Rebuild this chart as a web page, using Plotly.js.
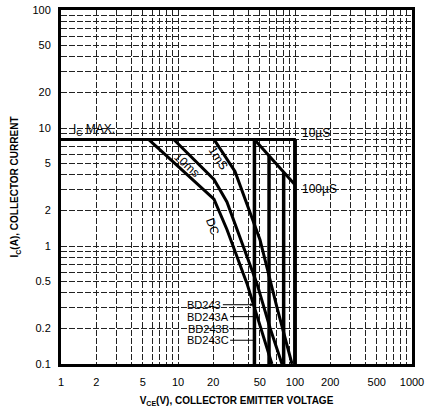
<!DOCTYPE html>
<html>
<head>
<meta charset="utf-8">
<script src="https://cdn.plot.ly/plotly-3.0.1.min.js"></script>
<style>html,body{margin:0;padding:0;background:#fff;}#chart{width:429px;height:418px;}</style>
</head>
<body>
<div id="chart"></div>
<script>
// ---- data (V in volts, I in amperes) ----
const icMax = 8;
const icMaxLineV = [1, 100];
const box10usV = [100, 100];
const box10usI = [8, 0.1];
const us100V = [45, 100];
const us100I = [8, 3.3];
const ms1V = [20.3, 30.7, 50.2, 70.2, 94.3];
const ms1I = [8, 4.28, 1.13, 0.30, 0.1];
const ms10V = [9.2, 20.3, 26.2, 47.3, 61.1, 77.4];
const ms10I = [8, 3.66, 2.36, 0.48, 0.203, 0.1];
const dcV = [5.6, 20.3, 26.2, 38.9, 63.5];
const dcI = [8, 2.5, 1.38, 0.48, 0.1];
const partNames = ['BD243', 'BD243A', 'BD243B', 'BD243C'];
const vceo = [45, 60, 80, 100];
const vceoTop = [8, 5.8, 4.2, 8];
const vceoBottom = 0.1;
const xTickLabels = [1, 2, 5, 10, 20, 50, 100, 200, 500, 1000];
const yTickLabels = [0.1, 0.2, 0.5, 1, 2, 5, 10, 20, 50, 100];

// ---- build grid tick lists (1..9 per decade) ----
function gridVals(startExp, endExp) {
  const v = [];
  for (let e = startExp; e < endExp; e++) {
    for (let m = 1; m <= 9; m++) v.push(+(m * Math.pow(10, e)).toPrecision(3));
  }
  v.push(Math.pow(10, endExp));
  return v;
}
const xVals = gridVals(0, 3);
const yVals = gridVals(-1, 2);
const lbl = (vals, shown) => vals.map(v => shown.some(s => Math.abs(s - v) < 1e-9 * Math.max(1, v)) ? String(v) : '');

const L = { color: '#000', width: 3 };
const traces = [];
traces.push({ x: icMaxLineV, y: [icMax, icMax], mode: 'lines', line: L, hoverinfo: 'skip' });
traces.push({ x: box10usV, y: box10usI, mode: 'lines', line: { color: '#000', width: 3.5 }, hoverinfo: 'skip' });
traces.push({ x: us100V, y: us100I, mode: 'lines', line: L, hoverinfo: 'skip' });
traces.push({ x: ms1V, y: ms1I, mode: 'lines', line: L, hoverinfo: 'skip' });
traces.push({ x: ms10V, y: ms10I, mode: 'lines', line: L, hoverinfo: 'skip' });
traces.push({ x: dcV, y: dcI, mode: 'lines', line: L, hoverinfo: 'skip' });
vceo.forEach((v, i) => {
  traces.push({ x: [v, v], y: [vceoTop[i], vceoBottom], mode: 'lines', line: { color: '#000', width: 3.5 }, hoverinfo: 'skip' });
});

const lg = Math.log10;
const F = 'Liberation Sans, Arial, sans-serif';
const annFont = { family: F, size: 12, color: '#000' };
const bdFont = { family: F, size: 11, color: '#000' };
const annotations = [
  { x: lg(1.22), y: lg(9.7), xref: 'x', yref: 'y', text: 'I<sub>C</sub> MAX.', showarrow: false, xanchor: 'left', yanchor: 'middle', font: annFont },
  { x: lg(11.9), y: lg(4.83), xref: 'x', yref: 'y', text: '10ms', showarrow: false, textangle: 42, font: annFont },
  { x: lg(22), y: lg(5.56), xref: 'x', yref: 'y', text: '1mS', showarrow: false, textangle: 57, font: annFont },
  { x: lg(19.9), y: lg(1.46), xref: 'x', yref: 'y', text: 'DC', showarrow: false, textangle: 70, font: annFont },
  { x: lg(110), y: lg(9.0), xref: 'x', yref: 'y', text: '10µS', showarrow: false, xanchor: 'left', yanchor: 'middle', font: annFont },
  { x: lg(110), y: lg(3.05), xref: 'x', yref: 'y', text: '100µS', showarrow: false, xanchor: 'left', yanchor: 'middle', font: annFont }
];
const rowI = [0.318, 0.252, 0.199, 0.159];
const labelCenterV = [16.8, 17.9, 18.1, 17.9];
partNames.forEach((n, i) => {
  annotations.push({
    x: lg(i === 0 ? vceo[i] - 1 : 45), y: lg(rowI[i]), xref: 'x', yref: 'y',
    ax: lg(labelCenterV[i]), ay: lg(rowI[i]), axref: 'x', ayref: 'y',
    text: n, showarrow: true, arrowhead: i === 0 ? 2 : 0, arrowsize: 0.6, arrowwidth: 1, arrowcolor: '#000',
    standoff: 0, startstandoff: 1, font: bdFont, borderpad: 0
  });
});

const axisCommon = {
  type: 'log', showgrid: true, gridcolor: '#222', gridwidth: 1, griddash: '6px,2px',
  showline: true, linecolor: '#000', linewidth: 3, mirror: true, ticks: '',
  tickfont: { family: F, size: 11, color: '#000' }, zeroline: false
};

const layout = {
  width: 429, height: 418,
  margin: { l: 61, r: 17, t: 10, b: 54 },
  paper_bgcolor: '#fff', plot_bgcolor: '#fff',
  showlegend: false,
  xaxis: Object.assign({}, axisCommon, {
    range: [0, 3], tickvals: xVals, ticktext: lbl(xVals, xTickLabels), tickangle: 0, ticklabelstandoff: 6,
    title: { text: '<b>V<sub>CE</sub>(V), COLLECTOR EMITTER VOLTAGE</b>', font: { family: F, size: 10, color: '#000' }, standoff: 10 }
  }),
  yaxis: Object.assign({}, axisCommon, {
    range: [-1, 2], tickvals: yVals, ticktext: lbl(yVals, yTickLabels), ticklabelstandoff: 5,
    title: { text: '<b>I<sub>C</sub>(A), COLLECTOR CURRENT</b>', font: { family: F, size: 10, color: '#000' }, standoff: 12 }
  }),
  annotations: annotations
};

Plotly.newPlot('chart', traces, layout, { staticPlot: true, displayModeBar: false });
</script>
</body>
</html>
